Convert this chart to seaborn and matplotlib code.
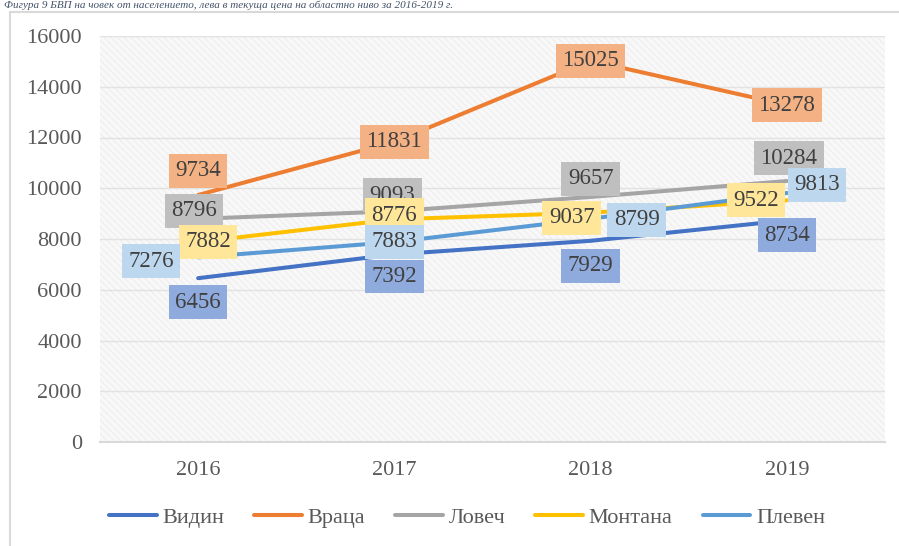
import pandas as pd
import seaborn as sns
import matplotlib.pyplot as plt
from matplotlib.patches import Rectangle

years = ["2016", "2017", "2018", "2019"]
regions = ["Видин", "Враца", "Ловеч", "Монтана", "Плевен"]
vidin = [6456, 7392, 7929, 8734]
vratsa = [9734, 11831, 15025, 13278]
lovech = [8796, 9093, 9657, 10284]
montana = [7882, 8776, 9037, 9522]
pleven = [7276, 7883, 8799, 9813]
caption = "Фигура 9 БВП на човек от населението, лева в текуща цена на областно ниво за 2016-2019 г."

line_colors = ["#4472c4", "#ed7d31", "#a5a5a5", "#ffc000", "#5b9bd5"]
box_colors = ["#8faadc", "#f4b183", "#bfbfbf", "#ffe699", "#bdd7ee"]
# label offsets from the point, in pixels (dx, dy)
label_offsets = {
    "Видин": [(0, -24), (0, -22), (0, -25), (0, -15)],
    "Враца": [(0, 24), (0, 0), (0, 0), (0, 0)],
    "Ловеч": [(-4, 8), (-2, 16), (0, 18), (2, 23)],
    "Монтана": [(10, 0), (0, 4), (-19, -5), (-31, 0)],
    "Плевен": [(-47, -4), (0, 0), (46, -1), (30, 8)],
}

series = [vidin, vratsa, lovech, montana, pleven]
df = pd.DataFrame({
    "year": years * len(regions),
    "region": [r for r in regions for _ in years],
    "value": [v for s in series for v in s],
})

sns.set_style("white")
plt.rcParams["font.family"] = ["Liberation Serif", "DejaVu Serif"]

fig = plt.figure(figsize=(8.99, 5.46), dpi=100)
W, H = 899, 546
ax = fig.add_axes([100 / W, (H - 442) / H, 785 / W, (442 - 36) / H])

# outer chart border (cut off right and bottom)
fig.patches.append(Rectangle((10 / W, -0.05), 1.0, (H - 12) / H + 0.05, transform=fig.transFigure,
                             fill=False, ec="#d9d9d9", lw=1.5, zorder=0))

# patterned plot background
plt.rcParams["hatch.linewidth"] = 0.6
ax.add_patch(Rectangle((0, 0), 1, 1, transform=ax.transAxes, fc="#f8f8f8",
                       ec="#ebebeb", hatch="\\\\\\\\\\", lw=0, zorder=0))

sns.lineplot(data=df, x="year", y="value", hue="region", hue_order=regions,
             palette=line_colors, linewidth=2.9, ax=ax, zorder=3, sort=False)

for k, (reg, vals) in enumerate(zip(regions, series)):
    for i, v in enumerate(vals):
        dx, dy = label_offsets[reg][i]
        ax.annotate(str(v), (i, v), xytext=(dx, dy), textcoords="offset pixels",
                    ha="center", va="center", fontsize=16.5, color="#404040",
                    bbox=dict(boxstyle="square,pad=0.28", fc=box_colors[k], ec="none"),
                    zorder=5 + k)

ax.set_xlim(-0.5, 3.5)
ax.set_ylim(0, 16000)
ax.set_yticks(range(0, 16001, 2000))
ax.set_xlabel("")
ax.set_ylabel("")
ax.yaxis.grid(True, color="#e2e2e2", lw=1)
ax.set_axisbelow(True)
for s in ["top", "right", "left"]:
    ax.spines[s].set_visible(False)
ax.spines["bottom"].set_color("#d9d9d9")
ax.spines["bottom"].set_linewidth(1.5)
ax.tick_params(axis="both", length=0, labelsize=16, labelcolor="#595959")
ax.tick_params(axis="x", pad=14)
ax.tick_params(axis="y", pad=13)

handles, labels = ax.get_legend_handles_labels()
ax.legend(handles, labels, loc="center", bbox_to_anchor=(467 / W, 1 - 518 / H),
          bbox_transform=fig.transFigure, ncol=5, frameon=False, fontsize=16,
          handlelength=2.15, handletextpad=0.25, columnspacing=1.35,
          labelcolor="#595959")

fig.text(0.005, 1 - 1 / H, caption, fontsize=8, style="italic", color="#44546a",
         ha="left", va="top")

fig.savefig("out.png", dpi=100)
